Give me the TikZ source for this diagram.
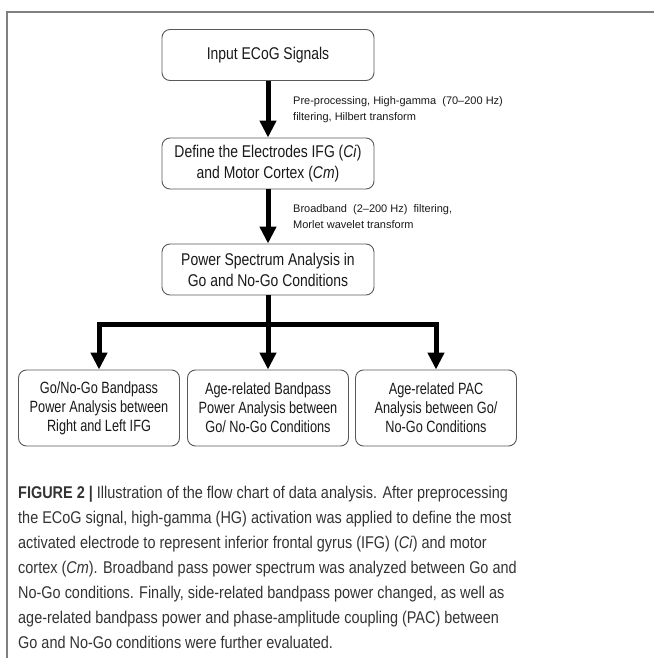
\documentclass[tikz,border=0pt]{standalone}
\usepackage{fontspec}
\setmainfont{Liberation Sans}
\newfontfamily\boxfont[FakeStretch=0.82]{Liberation Sans}
\newfontfamily\endfont[FakeStretch=0.78]{Liberation Sans}
\newfontfamily\capfont[FakeStretch=0.85]{Liberation Sans}
\usetikzlibrary{arrows.meta,positioning}
\begin{document}
\begin{tikzpicture}[x=1pt,y=-1pt,
  stepbox/.style={draw=black!65,line width=0.9pt,rounded corners=8pt,minimum width=212pt,minimum height=51pt,
    align=center,inner sep=2pt,text=black!90,font=\boxfont\fontsize{17}{21}\selectfont},
  endbox/.style={stepbox,minimum width=161pt,minimum height=76pt,font=\endfont\fontsize{16.3}{19}\selectfont},
  flow/.style={line width=5pt,-{Triangle[width=16pt,length=17pt]}},
  note/.style={anchor=west,align=left,inner sep=0pt,text=black!90,font=\fontsize{11}{16}\selectfont}]
\useasboundingbox (0,0) rectangle (654,658);
% frame of the figure
\draw[black!50,line width=1.5pt] (654,12) -- (7,12) -- (7,658);
% main steps
\node[stepbox] (input) at (268,55) {Input ECoG Signals};
\node[stepbox] (define) at (268,163.5) {Define the Electrodes IFG (\textit{Ci})\\and Motor Cortex (\textit{Cm})};
\node[stepbox] (power) at (268,269.5) {Power Spectrum Analysis in\\Go and No-Go Conditions};
\node[endbox] (side) at (99,408) {Go/No-Go Bandpass\\Power Analysis between\\Right and Left IFG};
\node[endbox] (age) at (268,408) {Age-related Bandpass\\Power Analysis between\\Go/ No-Go Conditions};
\node[endbox] (pac) at (436,408) {Age-related PAC\\Analysis between Go/\\No-Go Conditions};
\coordinate (split) at (268,324);
% arrows
\draw[flow] (input) -- (define);
\draw[flow] (define) -- (power);
\node[note] (hg) at (293,110) {Pre-processing, High-gamma\ \ (70--200 Hz)\\filtering, Hilbert transform};
\node[note] (bb) at (293,217) {Broadband\ \ (2--200 Hz)\ \ filtering,\\Morlet wavelet transform};
\draw[line width=5pt] (power) -- (split);
\draw[line width=5pt,line cap=rect] (split -| side) -- (split -| pac);
\foreach \n in {side,age,pac}
  \draw[flow] (split -| \n) -- (\n);
% caption (base = last line)
\node[anchor=base west,align=left,inner sep=0pt,text=black!80,font=\capfont\fontsize{17}{25}\selectfont] (caption) at (18,648)
  {\textbf{FIGURE 2 |} Illustration of the flow chart of data analysis. After preprocessing\\
   the ECoG signal, high-gamma (HG) activation was applied to define the most\\
   activated electrode to represent inferior frontal gyrus (IFG) (\textit{Ci}) and motor\\
   cortex (\textit{Cm}). Broadband pass power spectrum was analyzed between Go and\\
   No-Go conditions. Finally, side-related bandpass power changed, as well as\\
   age-related bandpass power and phase-amplitude coupling (PAC) between\\
   Go and No-Go conditions were further evaluated.};
\end{tikzpicture}
\end{document}
